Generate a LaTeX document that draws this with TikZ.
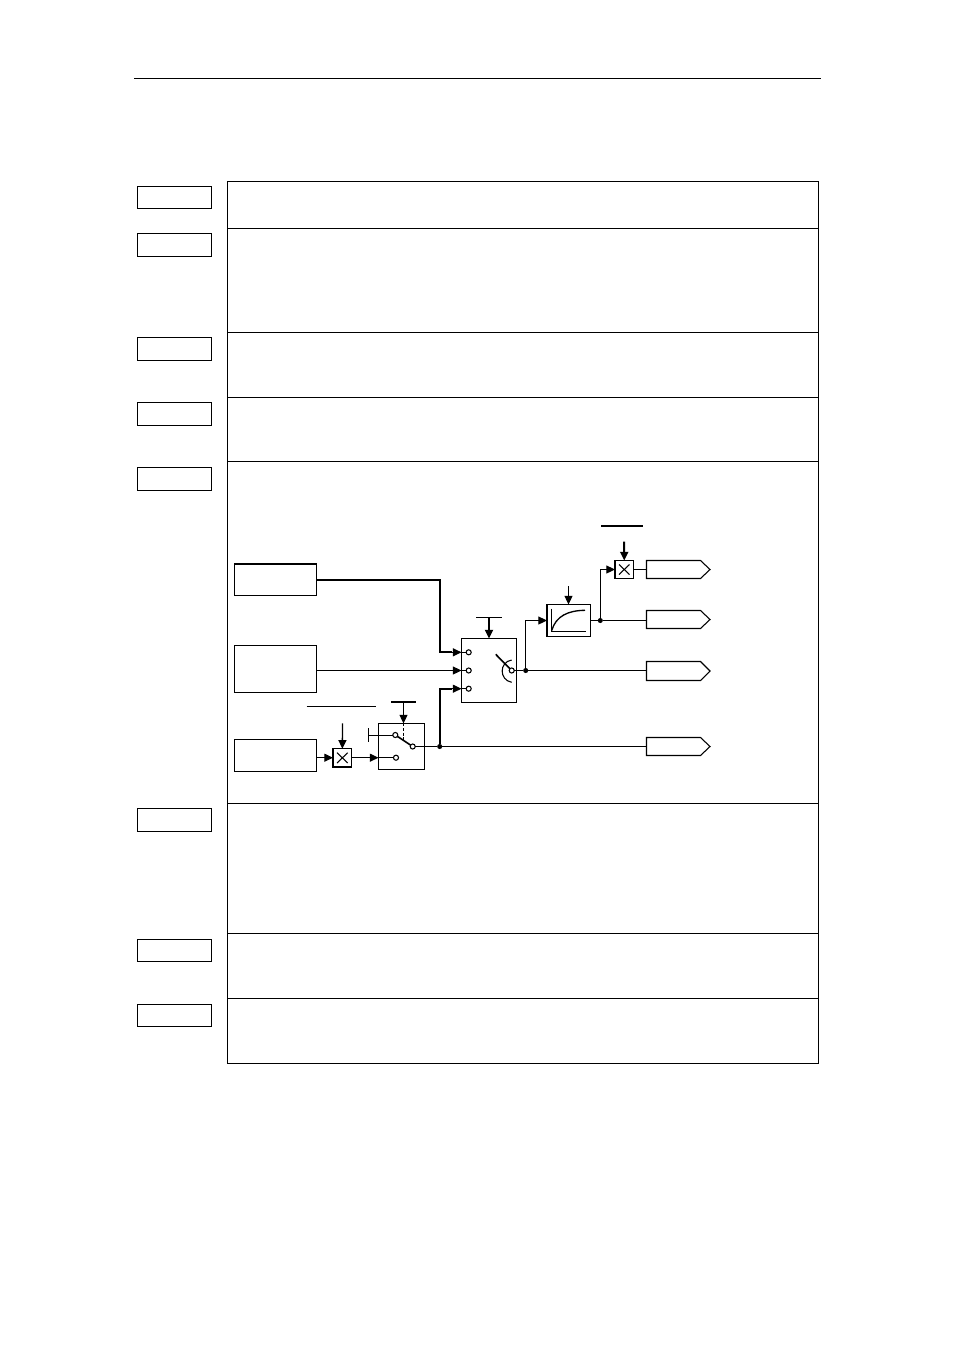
\documentclass[tikz,border=0pt]{standalone}
\usetikzlibrary{arrows.meta,calc,shapes.geometric}
\newcommand\bx[6][]{%
  \pgfmathsetmacro\bw{(#5-#3)*0.75}\pgfmathsetmacro\bh{(#6-#4)*0.75}%
  \node[rectbox,#1,minimum width=\bw pt,minimum height=\bh pt] (#2) at ({(#3+#5)/2},{(#4+#6)/2}) {};}
\newcommand\outp[3]{%
  \draw[thin1] (646.5,#2) -- (700.5,#2) -- (710,{(#2+#3)/2}) -- (700.5,#3) -- (646.5,#3) -- cycle;
  \coordinate (#1w) at (646.5,{(#2+#3)/2});}
\tikzset{
  rectbox/.style={draw=black,line width=0.8pt,fill=white,inner sep=0pt,outer sep=0pt},
  thin1/.style={draw=black,line width=0.8pt},
  heavy/.style={draw=black,line width=1.7pt},
  tip/.style={-{Triangle[length=6.5pt,width=6pt]}},
  dotn/.style={circle,fill=black,draw=none,minimum size=3.8pt,inner sep=0pt,outer sep=0pt},
  term/.style={circle,fill=white,draw=black,line width=0.8pt,minimum size=3.8pt,inner sep=0pt,outer sep=0pt},
}
\begin{document}
\begin{tikzpicture}[x=0.75pt,y=-0.75pt]
\useasboundingbox (0,0) rectangle (954,1350);
\fill[white] (0,0) rectangle (954,1350);
% header rule
\coordinate (ruleL) at (134,78.5); \coordinate (ruleR) at (821,78.5);
\draw[thin1] (ruleL) -- (ruleR);
% panel rows
\bx{p1}{227.5}{181.5}{818.5}{228.5}
\bx{p2}{227.5}{228.5}{818.5}{332.5}
\bx{p3}{227.5}{332.5}{818.5}{397.5}
\bx{p4}{227.5}{397.5}{818.5}{461.5}
\bx{p5}{227.5}{461.5}{818.5}{803.5}
\bx{p6}{227.5}{803.5}{818.5}{933.5}
\bx{p7}{227.5}{933.5}{818.5}{998.5}
\bx{p8}{227.5}{998.5}{818.5}{1063.5}
% side labels
\bx{l1}{137.5}{186.5}{211.5}{208.5}
\bx{l2}{137.5}{233.5}{211.5}{256.5}
\bx{l3}{137.5}{337.5}{211.5}{360.5}
\bx{l4}{137.5}{402.5}{211.5}{425.5}
\bx{l5}{137.5}{467.5}{211.5}{490.5}
\bx{l6}{137.5}{808.5}{211.5}{831.5}
\bx{l7}{137.5}{939.5}{211.5}{961.5}
\bx{l8}{137.5}{1004.5}{211.5}{1026.5}
% blocks
\bx{A}{234.5}{564}{316.5}{595.5}
\bx{B}{234.5}{645.5}{316.5}{692.5}
\bx{C}{234.5}{739.5}{316.5}{771.5}
\bx[line width=1pt]{M1}{333}{748.7}{351.7}{767}
\bx[line width=1pt]{SW}{378.5}{723.5}{424.5}{769.5}
\bx[line width=1pt]{SEL}{461.5}{638.5}{516.5}{702.5}
\bx[line width=1pt]{CV}{547}{604.5}{590.5}{636.5}
\bx[line width=1pt]{M2}{615}{560.5}{633.5}{578.5}
% outputs
\outp{O1}{560.5}{578.5}
\outp{O2}{610.5}{628.5}
\outp{O3}{661.5}{680.5}
\outp{O4}{737.5}{755.5}
% X marks
\draw[thin1] ($(M1.south west)+(4,-4)$) -- ($(M1.north east)+(-4,4)$);
\draw[thin1] ($(M1.north west)+(4,4)$) -- ($(M1.south east)+(-4,-4)$);
\draw[thin1] ($(M2.south west)+(4,-4)$) -- ($(M2.north east)+(-4,4)$);
\draw[thin1] ($(M2.north west)+(4,4)$) -- ($(M2.south east)+(-4,-4)$);
% selector terminals
\node[term] (t1) at (468.7,652.3) {};
\node[term] (t2) at (468.7,670.5) {};
\node[term] (t3) at (468.7,688.7) {};
\node[term] (tq) at (511.7,670.5) {};
\coordinate (e1) at (461.5,652.3); \coordinate (e2) at (461.5,670.5); \coordinate (e3) at (461.5,688.7);
\draw[thin1] (e1) -- (t1); \draw[thin1] (e2) -- (t2); \draw[thin1] (e3) -- (t3);
\coordinate (w1) at (495.7,654.3);
\draw[line width=1.2pt] (w1) -- (tq);
\draw[thin1] (511.7,660) .. controls (499,662) and (499,680) .. (511.7,682.3);
% curve block glyph
\coordinate (ax1) at (551.7,608.5); \coordinate (ax2) at (551.7,631.7); \coordinate (ax3) at (586,631.7);
\draw[line width=1pt] (ax1) -- (ax2) -- (ax3);
\draw[line width=1pt] (551.7,630.5) .. controls (556,616) and (568,610.5) .. (585,610.3);
% dots
\node[dotn] (d1) at (525.7,670.5) {};
\node[dotn] (d2) at (600.3,620.5) {};
\node[dotn] (d3) at (439.7,746.5) {};
% wires
\coordinate (Aout) at (A.east);
\draw[heavy] (Aout) -- (d3 |- Aout) -- (d3 |- e1) -- (452,652.3);
\draw[tip,thin1] (450,652.3) -- (e1);
\draw[tip,thin1] (B.east |- e2) -- (e2);
\draw[heavy] (d3) -- (d3 |- e3) -- (452,688.7);
\draw[tip,thin1] (450,688.7) -- (e3);
\draw[thin1] (tq) -- (d1) -- (d1 -| O3w);
\draw[tip,thin1] (d1) -- (d1 |- d2) -- (CV.west |- d2);
\draw[thin1] (CV.east |- d2) -- (d2) -- (d2 -| O2w);
\draw[tip,thin1] (d2) -- (d2 |- M2.west) -- (M2.west);
\draw[thin1] (M2.east) -- (O1w);
% left chain
\coordinate (cy) at (316.5,757.7);
\draw[tip,thin1] (cy) -- (M1.west |- cy);
\node[term] (s2) at (396,757.7) {};
\node[term] (s1) at (395.3,735) {};
\node[term] (sp) at (412.7,746.5) {};
\coordinate (sw2) at (378.5,757.7);
\draw[tip,thin1] (M1.east |- cy) -- (sw2);
\draw[thin1] (sw2) -- (s2);
\draw[line width=1.2pt] (s1) -- (sp);
\draw[thin1] (sp) -- (d3) -- (d3 -| O4w);
\coordinate (bar) at (368.5,735);
\draw[line width=0.7pt] (bar) -- (s1);
\draw[line width=0.7pt] (368.5,728.3) -- (368.5,741.7);
\draw[line width=1.4pt,dash pattern=on 2.2pt off 1.2pt] (403.5,723.5) -- (403.5,741);
% controls
\coordinate (c1a) at (342.5,723.3);
\draw[tip,line width=1pt] (c1a) -- (M1.north);
\coordinate (c2a) at (403.5,702);
\draw[tip,thin1] (c2a) -- (SW.north -| c2a);
\draw[heavy] (391,702) -- (416,702);
\coordinate (c3a) at (489,617.3);
\draw[tip,line width=1.4pt] (c3a) -- (SEL.north -| c3a);
\draw[thin1] (476.3,617.3) -- (501.7,617.3);
\coordinate (c4a) at (568.5,586);
\draw[tip,thin1] (c4a) -- (CV.north -| c4a);
\coordinate (c5a) at (624.2,541.7);
\draw[tip,line width=1.5pt] (c5a) -- (M2.north);
% overlines
\draw[thin1] (306.7,706.5) -- (375.7,706.5);
\draw[thin1] (601.3,526) -- (643.3,526);
\end{tikzpicture}
\end{document}
